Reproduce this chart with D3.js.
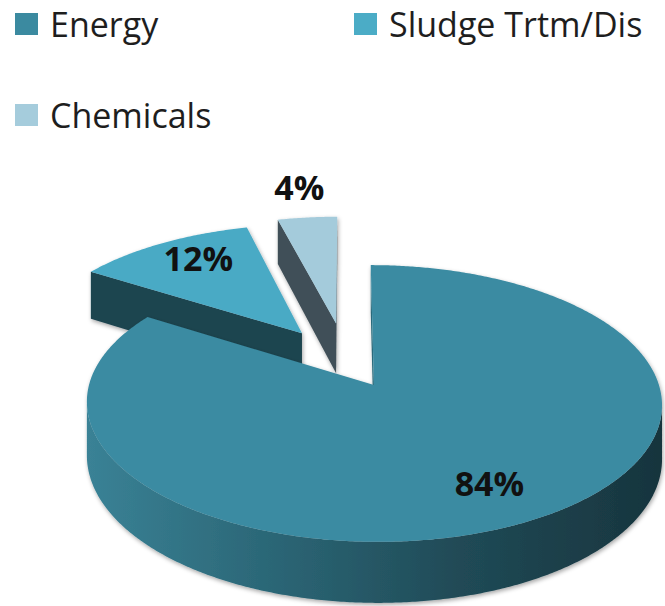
<!DOCTYPE html>
<html>
<head>
<meta charset="utf-8">
<script src="https://cdn.jsdelivr.net/npm/d3@7"></script>
<style>
  html, body { margin: 0; padding: 0; background: #ffffff; }
  svg { display: block; }
</style>
</head>
<body>
<svg id="chart" width="665" height="606"></svg>
<script>
// Cost breakdown shares (percent)
const categories = ["Energy", "Sludge Trtm/Dis", "Chemicals"];
const shares = [84, 12, 4];
const percentLabels = ["84%", "12%", "4%"];

// Slice styling
const topColors = ["#3b8ba2", "#4aaac5", "#a4cbdb"];
const faceColors = ["#2a6a7b", "#1f4450", "#3f4f58"];
const legendColors = ["#3b8aa0", "#4bacc6", "#a5ccdc"];
const explode = [0.20, 0.28, 0.31];
const labelRadius = [0.75, 0.72, 1.33];
const labelNudge = [0, -9, 0];

const svg = d3.select("#chart");

// Tilted, slightly perspective view of the pie disc
const view = { cx: 346.5, cy: 361.8, A: 278.5, B: 129.8, k: 0.13, depth: 51.7 };
function project(u, v, bottom) {
  const d = 1 - view.k * v;
  return [view.cx + view.A * u / d, view.cy + view.B * v / d + (bottom ? view.depth / d : 0)];
}

const pie = d3.pie().sort(null).value(d => d);
const arcs = pie(shares);

const defs = svg.append("defs");
const shadow = defs.append("filter").attr("id", "soft").attr("x", "-10%").attr("y", "-10%").attr("width", "120%").attr("height", "120%");
shadow.append("feDropShadow").attr("dx", 1).attr("dy", 2).attr("stdDeviation", 2.2)
  .attr("flood-color", "#000").attr("flood-opacity", 0.35);

// Horizontal shading for the rim of the big slice
const rimGrad = defs.append("linearGradient").attr("id", "rim0")
  .attr("gradientUnits", "userSpaceOnUse").attr("x1", 85).attr("x2", 665).attr("y1", 0).attr("y2", 0);
[[0, "#3a8296"], [0.3, "#2c6878"], [0.65, "#204a56"], [1, "#17343d"]].forEach(([o, c]) =>
  rimGrad.append("stop").attr("offset", o).attr("stop-color", c));

function polyArea(pts) {
  let s = 0;
  for (let i = 0; i < pts.length; i++) {
    const a = pts[i], b = pts[(i + 1) % pts.length];
    s += a[0] * b[1] - b[0] * a[1];
  }
  return s / 2;
}

const line = d3.line();
const step = Math.PI / 360;

function slicePieces(a, i) {
  const mid = (a.startAngle + a.endAngle) / 2;
  const ou = explode[i] * Math.sin(mid), ov = -explode[i] * Math.cos(mid);
  const pt = (t, r, bottom) => project(ou + r * Math.sin(t), ov - r * Math.cos(t), bottom);
  const thetas = d3.range(a.startAngle, a.endAngle, step).concat([a.endAngle]);

  const top = [pt(0, 0, false)].concat(thetas.map(t => pt(t, 1, false)));

  const faces = [];
  // radial cut faces
  [[a.startAngle, -1], [a.endAngle, 1]].forEach(([t, sgn]) => {
    const q = [pt(0, 0, false), pt(t, 1, false), pt(t, 1, true), pt(0, 0, true)];
    if (sgn * polyArea(q) > 0.5) faces.push({ pts: q, fill: faceColors[i] });
  });
  // outer rim, only where it faces the viewer
  let run = [];
  const runs = [];
  for (let j = 0; j < thetas.length - 1; j++) {
    const t0 = thetas[j], t1 = thetas[j + 1];
    const q = [pt(t0, 1, false), pt(t1, 1, false), pt(t1, 1, true), pt(t0, 1, true)];
    if (polyArea(q) < 0) {
      if (!run.length) run.push(t0);
      run.push(t1);
    } else if (run.length) { runs.push(run); run = []; }
  }
  if (run.length) runs.push(run);
  runs.forEach(r => {
    const pts = r.map(t => pt(t, 1, false)).concat(r.slice().reverse().map(t => pt(t, 1, true)));
    faces.push({ pts, fill: i === 0 ? "url(#rim0)" : faceColors[i] });
  });

  const lp = pt(mid, labelRadius[i], false);
  return { top, faces, label: [lp[0], lp[1] + labelNudge[i]] };
}

const pieces = arcs.map(slicePieces);

// Far slices first so nearer ones overlap them
const order = [2, 1, 0];
const pieG = svg.append("g");
order.forEach(i => {
  const p = pieces[i];
  const g = pieG.append("g").attr("filter", "url(#soft)");
  p.faces.forEach(f => g.append("path").attr("d", line(f.pts) + "Z").attr("fill", f.fill));
  g.append("path").attr("d", line(p.top) + "Z").attr("fill", topColors[i]);
});

// Percentage labels
pieces.forEach((p, i) => {
  svg.append("text")
    .attr("x", p.label[0]).attr("y", p.label[1])
    .attr("text-anchor", "middle").attr("dominant-baseline", "central")
    .attr("font-family", "'Open Sans', sans-serif").attr("font-weight", 700)
    .attr("font-size", 34).attr("fill", "#111")
    .text(percentLabels[i]);
});

// Legend
const legendPos = [[15, 37], [354, 37], [15, 128]];
const lg = svg.append("g");
categories.forEach((c, i) => {
  const [x, y] = legendPos[i];
  lg.append("rect").attr("x", x).attr("y", y - 24).attr("width", 23).attr("height", 22)
    .attr("fill", legendColors[i]);
  lg.append("text").attr("x", x + 35).attr("y", y)
    .attr("font-family", "'Open Sans', sans-serif").attr("font-size", 34).attr("fill", "#1e1e1e")
    .text(c);
});
</script>
</body>
</html>
